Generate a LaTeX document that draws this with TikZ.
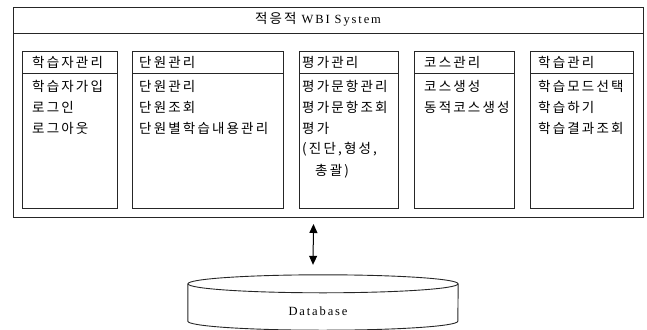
\documentclass[tikz,border=0pt]{standalone}
\usepackage{fontspec}
\setmainfont{Liberation Serif}[LetterSpace=15]
\newfontfamily\kor{Noto Sans CJK KR}[LetterSpace=16]
\usepackage{tikz}
\usetikzlibrary{arrows.meta}
\usetikzlibrary{positioning}

\tikzset{
  sysbox/.style={draw=black!85, line width=1pt, anchor=north west, inner sep=0pt},
  modbox/.style={draw=black!85, line width=0.9pt, anchor=north west, inner sep=0pt,
    minimum height=157pt},
  item/.style={anchor=west, inner sep=0pt, font=\kor\fontsize{13.5}{15}\selectfont},
  dbarrow/.style={line width=1pt, {Triangle[width=8pt,length=9pt]}-{Triangle[width=8pt,length=9pt]}}
}

\begin{document}
\begin{tikzpicture}[x=1pt, y=-1pt]
    \useasboundingbox (0,0) rectangle (647,329);

    % System frame
    \node[sysbox, minimum width=630pt, minimum height=210pt] (sys) at (13,7) {};
    \draw[black!85, line width=1pt] ([yshift=-27pt]sys.north west) -- ([yshift=-27pt]sys.north east);
    \node[font=\fontsize{12.5}{14}\selectfont] (title) at (318,19) {{\kor\fontsize{13.5}{15}\selectfont 적응적} WBI System};

    % First module
    \node[modbox, minimum width=95pt] (m1) at (22,51) {};
    \draw[black!85, line width=0.9pt] ([yshift=-22pt]m1.north west) -- ([yshift=-22pt]m1.north east);
    \node[item] (h1) at (32,62) {학습자관리};
    \node[item] (a1) at (32,86) {학습자가입};
    \node[item] (b1) at (32,107) {로그인};
    \node[item] (c1) at (32,128) {로그아웃};

    % Second module
    \node[modbox, minimum width=151pt] (m2) at (132,51) {};
    \draw[black!85, line width=0.9pt] ([yshift=-22pt]m2.north west) -- ([yshift=-22pt]m2.north east);
    \node[item] (h2) at (139,62) {단원관리};
    \node[item] (a2) at (139,86) {단원관리};
    \node[item] (b2) at (139,107) {단원조회};
    \node[item] (c2) at (139,128) {단원별학습내용관리};

    % Third module
    \node[modbox, minimum width=99pt] (m3) at (299,51) {};
    \draw[black!85, line width=0.9pt] ([yshift=-22pt]m3.north west) -- ([yshift=-22pt]m3.north east);
    \node[item] (h3) at (302,62) {평가관리};
    \node[item] (a3) at (302,86) {평가문항관리};
    \node[item] (b3) at (302,107) {평가문항조회};
    \node[item] (c3) at (302,128) {평가};
    \node[item] (d3) at (302,149) {(진단,형성,};
    \node[item] (e3) at (315,171) {총괄)};

    % Fourth module
    \node[modbox, minimum width=100pt] (m4) at (414,51) {};
    \draw[black!85, line width=0.9pt] ([yshift=-22pt]m4.north west) -- ([yshift=-22pt]m4.north east);
    \node[item] (h4) at (424,62) {코스관리};
    \node[item] (a4) at (424,86) {코스생성};
    \node[item] (b4) at (424,107) {동적코스생성};

    % Fifth module
    \node[modbox, minimum width=103pt] (m5) at (530,51) {};
    \draw[black!85, line width=0.9pt] ([yshift=-22pt]m5.north west) -- ([yshift=-22pt]m5.north east);
    \node[item] (h5) at (538,62) {학습관리};
    \node[item] (a5) at (538,86) {학습모드선택};
    \node[item] (b5) at (538,107) {학습하기};
    \node[item] (c5) at (538,128) {학습결과조회};

    % Database
    \node[minimum width=270pt, minimum height=55pt, inner sep=0pt] (db) at (323,302.5) {};
    \draw[black!85, line width=0.9pt] ([yshift=-9pt]db.north west) -- ([yshift=9pt]db.south west)
        arc[start angle=180, end angle=360, x radius=135pt, y radius=9pt] -- ([yshift=-9pt]db.north east);
    \draw[black!85, line width=0.9pt] ([yshift=-9pt]db.north) ellipse[x radius=135pt, y radius=9pt];
    \node[font=\fontsize{12.5}{14}\selectfont] (dbl) at (318,311) {Database};

    % Link
    \draw[dbarrow] ([xshift=-15pt,yshift=-6pt]sys.south) -- ([xshift=-10pt,yshift=10pt]db.north);
\end{tikzpicture}
\end{document}
